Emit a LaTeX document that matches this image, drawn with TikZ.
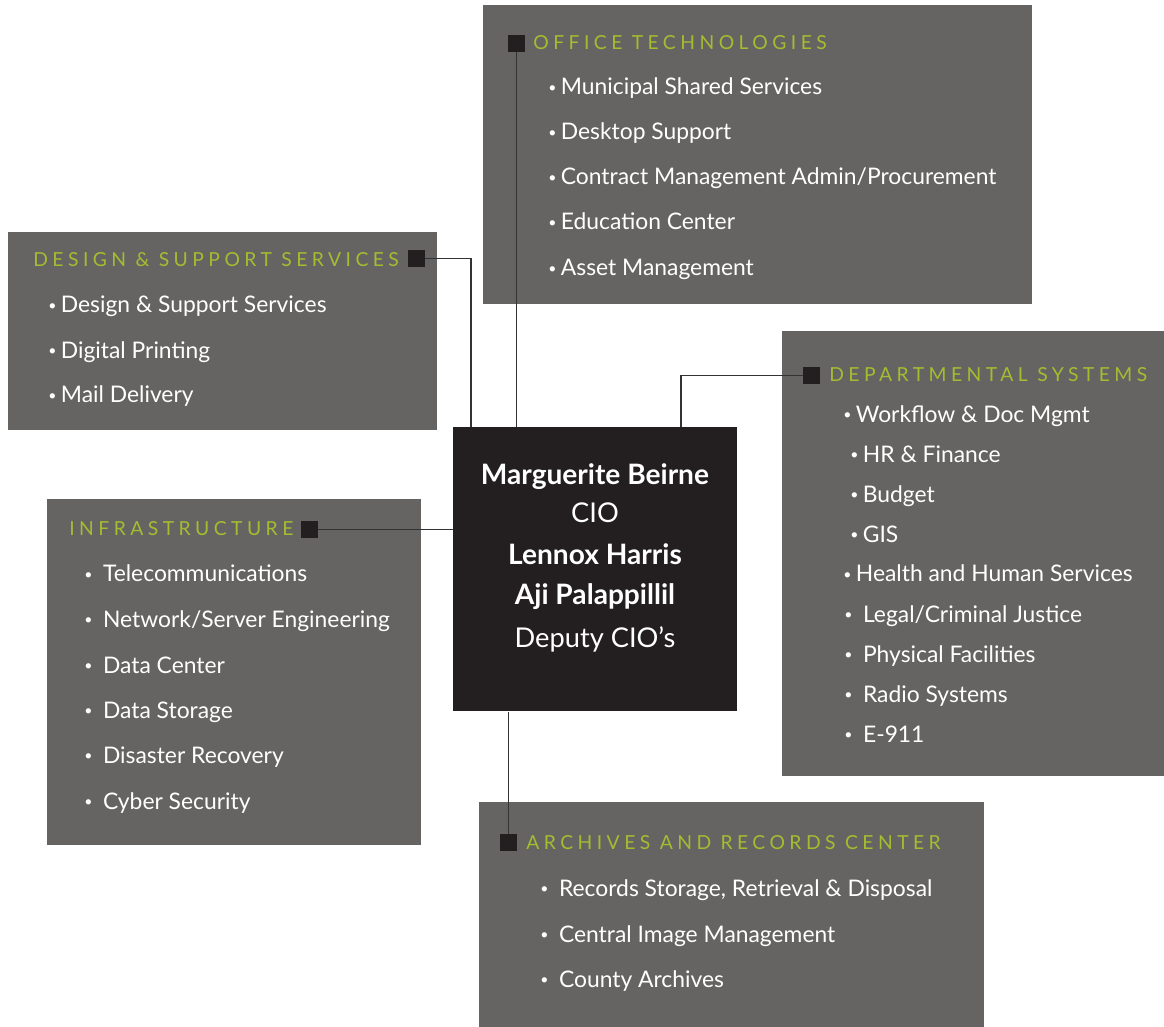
\documentclass[tikz,border=0pt]{standalone}
\usepackage{fontspec}
\setmainfont{Lato}
\newfontfamily\headfont[LetterSpace=23]{Lato}
\usetikzlibrary{positioning}
\definecolor{boxgray}{HTML}{666462}
\definecolor{ciodark}{HTML}{231F20}
\definecolor{headgreen}{HTML}{A3BD31}
\definecolor{linkgray}{HTML}{333333}
\newcommand{\dotitem}{\raisebox{1.3pt}{\fontsize{8}{8}\selectfont•}}

\begin{document}
\begin{tikzpicture}[x=0.02cm, y=-0.02cm,
        panel/.style={fill=boxgray, inner sep=0, anchor=north west},
        marker/.style={fill=ciodark, inner sep=0, minimum size=0.34cm},
        head/.style={anchor=base west, inner sep=0, text=headgreen, font=\headfont\fontsize{11}{13}\selectfont},
        item/.style={anchor=base west, inner sep=0, text=white, font=\fontsize{13}{15}\selectfont},
        cioline/.style={anchor=base, inner sep=0, text=white, font=\fontsize{15.5}{18}\selectfont},
        ciobold/.style={cioline, font=\bfseries\fontsize{16}{18}\selectfont},
        link/.style={draw=linkgray, line width=0.7pt}]
        \useasboundingbox[fill=white] (0,0) rectangle (1164,1027);

        % Panels
        \node[panel, minimum width=10.98cm, minimum height=5.98cm] (office) at (483,5) {};
        \node[panel, minimum width=8.58cm, minimum height=3.96cm] (design) at (8,232) {};
        \node[panel, minimum width=7.64cm, minimum height=8.90cm] (dept) at (782,331) {};
        \node[panel, minimum width=7.48cm, minimum height=6.92cm] (infra) at (47,499) {};
        \node[panel, minimum width=10.10cm, minimum height=4.50cm] (archive) at (479,802) {};
        \node[panel, fill=ciodark, minimum width=5.68cm, minimum height=5.68cm] (cio) at (453,427) {};

        % Join points on top of the CIO box
        \coordinate (dsJoin) at (471,427);
        \coordinate (dpJoin) at (681,427);

        % Markers
        \node[marker] (sqOffice) at (516.5,43.5) {};
        \node[marker] (sqDesign) at (416.5,258.5) {};
        \node[marker] (sqDept) at (811.5,375.5) {};
        \node[marker] (sqInfra) at (309.5,529.5) {};
        \node[marker] (sqArch) at (508.5,842.5) {};

        % Connectors
        \draw[link] (sqOffice.south) -- (sqOffice.south |- cio.north);
        \draw[link] (sqDesign.east) -| (dsJoin);
        \draw[link] (dpJoin) |- (sqDept.west);
        \draw[link] (sqInfra.east) -- (sqInfra.east -| cio.west);
        \draw[link] (sqArch.north |- cio.south) -- (sqArch.north);

        % CIO box
        \node[ciobold] (cio1) at (595,484) {Marguerite Beirne};
        \node[cioline] (cio2) at (595,522) {CIO};
        \node[ciobold] (cio3) at (595,564) {Lennox Harris};
        \node[ciobold] (cio4) at (595,604) {Aji Palappillil};
        \node[cioline] (cio5) at (595,647) {Deputy CIO’s};

        % Office technologies
        \node[head] (officeHead) at (533,49.5) {OFFICE TECHNOLOGIES};
        \node[item] (o1) at (548,95) {\dotitem\hspace{2.5pt}Municipal Shared Services};
        \node[item] (o2) at (548,140) {\dotitem\hspace{2.5pt}Desktop Support};
        \node[item] (o3) at (548,185) {\dotitem\hspace{2.5pt}Contract Management Admin/Procurement};
        \node[item] (o4) at (548,230) {\dotitem\hspace{2.5pt}Education Center};
        \node[item] (o5) at (548,276) {\dotitem\hspace{2.5pt}Asset Management};

        % Design & support services
        \node[head] (designHead) at (33,266.5) {DESIGN \& SUPPORT SERVICES};
        \node[item] (d1) at (48,313) {\dotitem\hspace{2.5pt}Design \& Support Services};
        \node[item] (d2) at (48,358) {\dotitem\hspace{2.5pt}Digital Printing};
        \node[item] (d3) at (48,403) {\dotitem\hspace{2.5pt}Mail Delivery};

        % Departmental systems
        \node[head] (deptHead) at (829,381.5) {DEPARTMENTAL SYSTEMS};
        \node[item] (p1) at (843,422) {\dotitem\hspace{2.5pt}Workflow \& Doc Mgmt};
        \node[item] (p2) at (850,462) {\dotitem\hspace{2.5pt}HR \& Finance};
        \node[item] (p3) at (850,502) {\dotitem\hspace{2.5pt}Budget};
        \node[item] (p4) at (850,542) {\dotitem\hspace{2.5pt}GIS};
        \node[item] (p5) at (843,582) {\dotitem\hspace{2.5pt}Health and Human Services};
        \node[item] (p6) at (844,622) {\dotitem\hspace{6pt}Legal/Criminal Justice};
        \node[item] (p7) at (844,662) {\dotitem\hspace{6pt}Physical Facilities};
        \node[item] (p8) at (844,702) {\dotitem\hspace{6pt}Radio Systems};
        \node[item] (p9) at (844,742) {\dotitem\hspace{6pt}E-911};

        % Infrastructure
        \node[head] (infraHead) at (69,535.5) {INFRASTRUCTURE};
        \node[item] (i1) at (84,582) {\dotitem\hspace{6pt}Telecommunications};
        \node[item] (i2) at (84,627) {\dotitem\hspace{6pt}Network/Server Engineering};
        \node[item] (i3) at (84,673) {\dotitem\hspace{6pt}Data Center};
        \node[item] (i4) at (84,718) {\dotitem\hspace{6pt}Data Storage};
        \node[item] (i5) at (84,763) {\dotitem\hspace{6pt}Disaster Recovery};
        \node[item] (i6) at (84,809) {\dotitem\hspace{6pt}Cyber Security};

        % Archives and records center
        \node[head] (archHead) at (526,849.5) {ARCHIVES AND RECORDS CENTER};
        \node[item] (a1) at (540,896) {\dotitem\hspace{6pt}Records Storage, Retrieval \& Disposal};
        \node[item] (a2) at (540,942) {\dotitem\hspace{6pt}Central Image Management};
        \node[item] (a3) at (540,987) {\dotitem\hspace{6pt}County Archives};
\end{tikzpicture}
\end{document}
